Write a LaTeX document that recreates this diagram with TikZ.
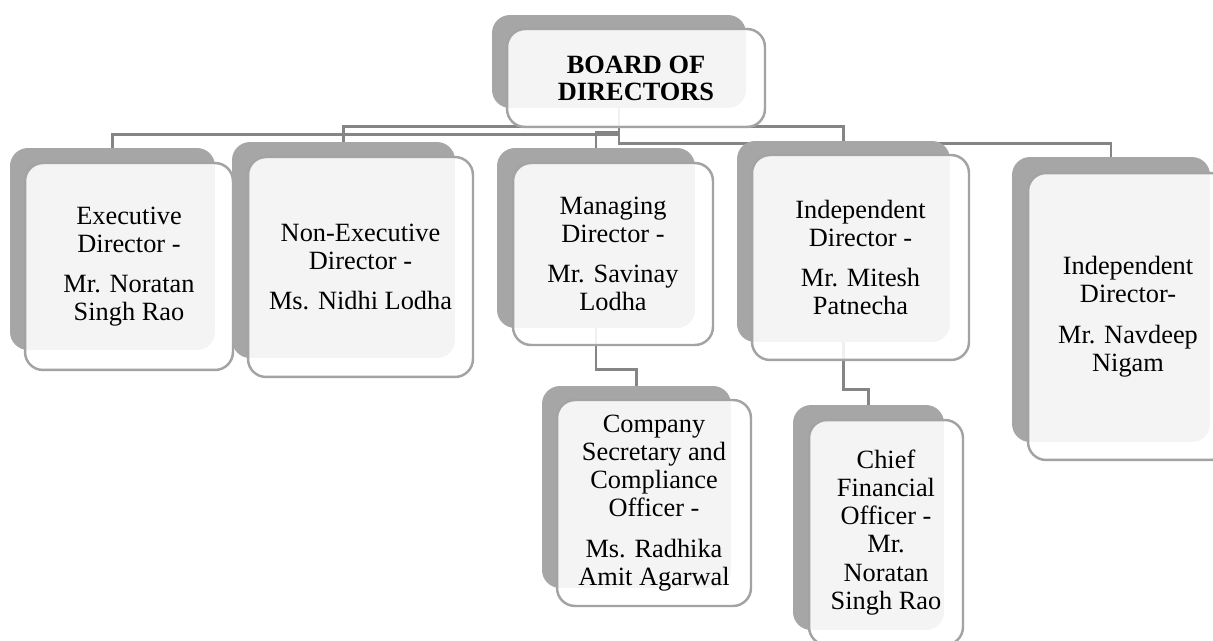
\documentclass[tikz,border=0pt]{standalone}
\usepackage{fontspec}
\setmainfont{Liberation Serif}
\usetikzlibrary{backgrounds}
\definecolor{shade}{HTML}{A6A6A6}
\definecolor{rim}{HTML}{A3A3A3}
\definecolor{wire}{HTML}{858585}

\begin{document}
\begin{tikzpicture}[x=0.02cm, y=-0.02cm,
  back/.style={fill=shade, rounded corners=0.36cm, inner sep=0pt},
  card/.style={fill=white, fill opacity=0.88, text opacity=1, draw=rim, line width=1.4pt,
    rounded corners=0.36cm, align=center, inner sep=0pt, font=\fontsize{15}{16}\selectfont},
  wire/.style={draw=wire, line width=1.4pt}]
  \useasboundingbox (0,0) rectangle (1213,641);

  % top of the chart
  \node[back, minimum width=5.08cm, minimum height=1.86cm] (topb) at (619,61.5) {};
  \node[card, minimum width=5.16cm, minimum height=1.96cm,
    font=\fontsize{15}{15.3}\selectfont\bfseries] (topb-c) at (636,78) {BOARD OF\\DIRECTORS};

  % second row
  \node[back, minimum width=4.10cm, minimum height=4.04cm] (exec) at (112.5,249) {};
  \node[card, minimum width=4.16cm, minimum height=4.14cm] (exec-c) at (129,266.5)
    {Executive\\Director -\\[7pt]Mr. Noratan\\Singh Rao};

  \node[back, minimum width=4.46cm, minimum height=4.32cm] (nonexec) at (343.5,250) {};
  \node[card, minimum width=4.50cm, minimum height=4.40cm] (nonexec-c) at (360.5,267)
    {Non-Executive\\Director -\\[7pt]Ms. Nidhi Lodha};

  \node[back, minimum width=3.96cm, minimum height=3.60cm] (md) at (596,238) {};
  \node[card, minimum width=4.00cm, minimum height=3.64cm] (md-c) at (613,254)
    {Managing\\Director -\\[7pt]Mr. Savinay\\Lodha};

  \node[back, minimum width=4.26cm, minimum height=4.02cm] (indep1) at (843.5,241.5) {};
  \node[card, minimum width=4.34cm, minimum height=4.10cm] (indep1-c) at (860.5,257.5)
    {Independent\\Director -\\[7pt]Mr. Mitesh\\Patnecha};

  \node[back, minimum width=3.96cm, minimum height=5.70cm] (indep2) at (1111,299.5) {};
  \node[card, minimum width=4.00cm, minimum height=5.74cm] (indep2-c) at (1128,316.5)
    {Independent\\Director-\\[7pt]Mr. Navdeep\\Nigam};

  % third row
  \node[back, minimum width=3.78cm, minimum height=4.04cm] (cs) at (636.5,487) {};
  \node[card, minimum width=3.88cm, minimum height=4.12cm] (cs-c) at (654,503)
    {Company\\Secretary and\\Compliance\\Officer -\\[7pt]Ms. Radhika\\Amit Agarwal};

  \node[back, minimum width=3.02cm, minimum height=4.50cm] (cfo) at (868.5,517.5) {};
  \node[card, minimum width=3.08cm, minimum height=4.50cm] (cfo-c) at (886,532.5)
    {Chief\\Financial\\Officer -\\Mr.\\Noratan\\Singh Rao};

  \begin{scope}[on background layer]
    \draw[wire] (topb.south) -- ++(0,26) -| (exec.north);
    \draw[wire] (topb.south) -- ++(0,18) -| (nonexec.north);
    \draw[wire] (topb.south) -- ++(0,24) -| (md.north);
    \draw[wire] (topb.south) -- ++(0,18) -| (indep1.north);
    \draw[wire] (topb.south) -- ++(0,35) -| (indep2.north);
    \draw[wire] (md.south) -- ++(0,41) -| (cs.north);
    \draw[wire] (indep1.south) -- ++(0,47) -| (cfo.north);
  \end{scope}
\end{tikzpicture}
\end{document}
